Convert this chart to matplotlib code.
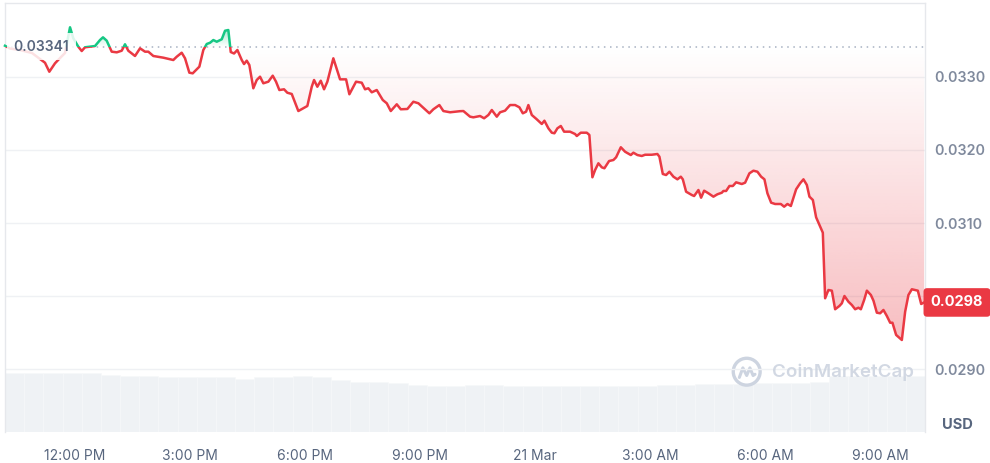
import numpy as np
import matplotlib
matplotlib.use("Agg")
import matplotlib.pyplot as plt
from matplotlib.patches import Rectangle, Circle
from matplotlib.path import Path

plt.rcParams['font.family'] = ['Inter', 'DejaVu Sans']

# ---- data (hours relative to 20 Mar 12:00 PM) ----
hours = [-1.826, -1.696, -1.435, -1.122, -0.783, -0.670, -0.522, -0.391, -0.261, -0.130,
         -0.044, 0.086, 0.175, 0.261, 0.522, 0.652, 0.730, 0.827, 0.957, 1.088,
         1.218, 1.304, 1.390, 1.565, 1.696, 1.826, 1.912, 2.043, 2.303, 2.564,
         2.653, 2.783, 2.870, 2.982, 3.070, 3.243, 3.347, 3.436, 3.522, 3.608,
         3.697, 3.827, 3.913, 3.999, 4.062, 4.148, 4.235, 4.349, 4.409, 4.479,
         4.547, 4.651, 4.740, 4.826, 4.912, 5.043, 5.157, 5.243, 5.330, 5.452,
         5.538, 5.653, 5.713, 5.825, 6.060, 6.175, 6.235, 6.321, 6.410, 6.496,
         6.582, 6.738, 6.913, 7.070, 7.156, 7.330, 7.479, 7.565, 7.651, 7.740,
         7.870, 8.027, 8.131, 8.236, 8.392, 8.497, 8.669, 8.825, 8.956, 9.243,
         9.347, 9.503, 9.608, 9.783, 10.043, 10.130, 10.304, 10.390, 10.565, 10.670,
         10.782, 10.871, 11.001, 11.087, 11.217, 11.348, 11.478, 11.591, 11.680, 11.765,
         11.825, 11.914, 12.044, 12.175, 12.243, 12.347, 12.436, 12.504, 12.582, 12.671,
         12.757, 12.913, 13.043, 13.088, 13.192, 13.349, 13.416, 13.495, 13.565, 13.651,
         13.740, 13.808, 13.930, 14.043, 14.113, 14.236, 14.348, 14.497, 14.564, 14.669,
         14.783, 14.870, 15.044, 15.190, 15.243, 15.331, 15.417, 15.503, 15.608, 15.712,
         15.801, 15.853, 15.939, 16.088, 16.148, 16.260, 16.330, 16.409, 16.521, 16.651,
         16.756, 16.870, 16.912, 16.983, 17.069, 17.158, 17.243, 17.392, 17.478, 17.590,
         17.695, 17.799, 17.896, 17.982, 18.060, 18.157, 18.261, 18.410, 18.496, 18.582,
         18.671, 18.809, 18.913, 19.000, 19.088, 19.156, 19.245, 19.330, 19.435, 19.505,
         19.565, 19.651, 19.740, 19.826, 19.938, 20.001, 20.069, 20.173, 20.262, 20.348,
         20.434, 20.497, 20.583, 20.654, 20.758, 20.826, 20.914, 21.000, 21.086, 21.175,
         21.261, 21.321, 21.417, 21.566, 21.652, 21.738, 21.827, 21.983, 22.070, 22.148]

prices = [0.033423, 0.033385, 0.033365, 0.033324, 0.033191, 0.033068, 0.033183, 0.033255, 0.033324, 0.033675,
          0.033525, 0.033410, 0.033351, 0.033402, 0.033419, 0.033501, 0.033538, 0.033492, 0.033342, 0.033333,
          0.033355, 0.033443, 0.033355, 0.033283, 0.033388, 0.033342, 0.033342, 0.033283, 0.033260, 0.033228,
          0.033273, 0.033328, 0.033251, 0.033055, 0.033046, 0.033137, 0.033365, 0.033447, 0.033464, 0.033501,
          0.033478, 0.033511, 0.033628, 0.033638, 0.033337, 0.033317, 0.033365, 0.033228, 0.033173, 0.033219,
          0.033160, 0.032842, 0.032955, 0.033000, 0.032910, 0.032932, 0.033014, 0.032932, 0.032818, 0.032828,
          0.032781, 0.032764, 0.032682, 0.032531, 0.032600, 0.032863, 0.032955, 0.032863, 0.032945, 0.032828,
          0.032932, 0.033251, 0.032964, 0.032964, 0.032760, 0.032932, 0.032918, 0.032828, 0.032842, 0.032787,
          0.032818, 0.032682, 0.032637, 0.032531, 0.032623, 0.032555, 0.032559, 0.032658, 0.032637, 0.032500,
          0.032555, 0.032613, 0.032531, 0.032514, 0.032529, 0.032531, 0.032454, 0.032445, 0.032463, 0.032432,
          0.032477, 0.032545, 0.032454, 0.032514, 0.032536, 0.032613, 0.032613, 0.032582, 0.032500, 0.032522,
          0.032613, 0.032477, 0.032418, 0.032354, 0.032399, 0.032295, 0.032235, 0.032227, 0.032295, 0.032327,
          0.032249, 0.032249, 0.032217, 0.032190, 0.032235, 0.032235, 0.032204, 0.031626, 0.031725, 0.031817,
          0.031762, 0.031749, 0.031848, 0.031862, 0.031899, 0.032036, 0.031975, 0.031930, 0.031962, 0.031930,
          0.031917, 0.031934, 0.031934, 0.031944, 0.031907, 0.031671, 0.031657, 0.031702, 0.031634, 0.031598,
          0.031634, 0.031598, 0.031429, 0.031384, 0.031370, 0.031452, 0.031347, 0.031443, 0.031407, 0.031361,
          0.031394, 0.031415, 0.031439, 0.031439, 0.031507, 0.031507, 0.031557, 0.031534, 0.031552, 0.031680,
          0.031716, 0.031702, 0.031634, 0.031598, 0.031407, 0.031279, 0.031261, 0.031261, 0.031224, 0.031261,
          0.031234, 0.031462, 0.031544, 0.031598, 0.031521, 0.031361, 0.031316, 0.031079, 0.030951, 0.030869,
          0.029973, 0.030086, 0.030077, 0.029823, 0.029868, 0.029904, 0.030004, 0.029926, 0.029881, 0.029823,
          0.029844, 0.029823, 0.029950, 0.030077, 0.030018, 0.029940, 0.029776, 0.029768, 0.029813, 0.029731,
          0.029639, 0.029639, 0.029472, 0.029403, 0.029789, 0.030018, 0.030096, 0.030077, 0.029895, 0.029916]

baseline = 0.03341
baseline_label = "0.03341"
last_label = "0.0298"

# volume (relative units), 30-minute bins starting at the first timestamp
volume = [5.87, 5.87, 5.87, 5.87, 5.95, 5.70, 5.60, 5.60, 5.47, 5.47, 5.47, 5.47,
          5.33, 5.47, 5.50, 5.60, 5.50, 5.20, 4.97, 4.97, 4.87, 4.73, 4.60, 4.60,
          4.67, 4.67, 4.60, 4.60, 4.60, 4.60, 4.60, 4.60, 4.60, 4.60, 4.73, 4.73,
          4.77, 4.77, 4.77, 4.87, 4.90, 4.93, 5.00, 5.57, 5.57, 5.57, 5.57, 5.65]
vol_bin_hours = 0.5

xtick_pos = [0, 3, 6, 9, 12, 15, 18, 21]
xtick_labels = ["12:00 PM", "3:00 PM", "6:00 PM", "9:00 PM", "21 Mar", "3:00 AM", "6:00 AM", "9:00 AM"]
# 0.0300 label is hidden behind the last-price badge in the reference
ytick_pos = [0.0290, 0.0300, 0.0310, 0.0320, 0.0330]
ytick_labels = ["0.0290", "", "0.0310", "0.0320", "0.0330"]

RED = "#ea3943"
GREEN = "#16c784"

t = np.array(hours)
p = np.array(prices)

W, H = 990, 463
fig = plt.figure(figsize=(W / 100, H / 100), dpi=100)
L, R, T, B = 5, 925, 3, 432
ax = fig.add_axes([L / W, 1 - B / H, (R - L) / W, (B - T) / H])
ax2 = ax.twinx()
ax.set_zorder(ax2.get_zorder() + 1)
ax.patch.set_visible(False)

x0, x1 = -1.826, 22.17
y0, y1 = 0.028146, 0.034007
ax.set_xlim(x0, x1)
ax.set_ylim(y0, y1)

# volume bars
vt = x0 + np.arange(len(volume)) * vol_bin_hours
ax2.bar(vt, volume, width=vol_bin_hours, align='edge', color="#eff2f5",
        edgecolor="#f7f8fa", linewidth=0.4)
ax2.set_ylim(0, 42.9)
ax2.set_yticks([])
for s in ax2.spines.values():
    s.set_visible(False)

# grid
for yv in ytick_pos:
    ax.axhline(yv, color="#eff1f4", lw=1, zorder=0)

# gradient fills
def grad_fill(mask_where, color, a_lo, a_hi, v_lo, v_hi):
    coll = ax.fill_between(t, p, baseline, where=mask_where, interpolate=True,
                           facecolor='none', edgecolor='none')
    paths = coll.get_paths()
    if not paths:
        return
    cp = Path.make_compound_path(*paths)
    n = 256
    rgb = matplotlib.colors.to_rgb(color)
    img = np.zeros((n, 2, 4))
    img[..., 0], img[..., 1], img[..., 2] = rgb
    img[..., 3] = np.linspace(a_lo, a_hi, n)[:, None]
    im = ax.imshow(img, extent=[x0, x1, v_lo, v_hi], origin='lower',
                   aspect='auto', interpolation='bilinear', zorder=1)
    im.set_clip_path(cp, transform=ax.transData)

grad_fill(p < baseline, RED, 0.33, 0.0, 0.02940, baseline)
grad_fill(p >= baseline, GREEN, 0.0, 0.40, baseline, 0.03366)
ax.set_xlim(x0, x1)
ax.set_ylim(y0, y1)

# baseline dotted
ax.axhline(baseline, color="#a7b1c2", lw=1.1, ls=(0, (1, 3)), zorder=2)

# price line split by color
red_line, = ax.plot(t, p, color=RED, lw=1.8, solid_joinstyle='round', zorder=3)
green_line, = ax.plot(t, p, color=GREEN, lw=1.8, solid_joinstyle='round', zorder=3)
clip_lo = Rectangle((x0 - 1, y0 - 0.001), x1 - x0 + 2, baseline - y0 + 0.001, transform=ax.transData)
clip_hi = Rectangle((x0 - 1, baseline), x1 - x0 + 2, 0.002, transform=ax.transData)
red_line.set_clip_path(clip_lo)
green_line.set_clip_path(clip_hi)

# baseline label
ax.text(0.0095, baseline, baseline_label, transform=ax.get_yaxis_transform(),
        ha='left', va='center', fontsize=10, fontweight='semibold', color="#58667e",
        zorder=5, bbox=dict(boxstyle='square,pad=0.45', facecolor='white',
                            edgecolor='none', alpha=0.85))

# axes styling
for side in ['left', 'top', 'right']:
    ax.spines[side].set_color("#e6e8ec")
    ax.spines[side].set_linewidth(1)
ax.spines['bottom'].set_visible(False)
ax.set_xticks(xtick_pos)
ax.set_xticklabels(xtick_labels)
ax.tick_params(axis='x', length=0, pad=12, labelsize=10, labelcolor="#58667e")
ax.yaxis.tick_right()
ax.set_yticks(ytick_pos)
ax.set_yticklabels(ytick_labels)
ax.tick_params(axis='y', length=0, pad=7, labelsize=10.3, labelcolor="#808a9d")
for lab in ax.get_yticklabels():
    lab.set_fontweight('semibold')

# last price badge
ax.annotate(last_label, xy=(1, p[-1]), xycoords=ax.get_yaxis_transform(),
            xytext=(32, 0), textcoords='offset pixels', ha='center', va='center',
            fontsize=10.5, fontweight='bold', color='white', zorder=10,
            annotation_clip=False,
            bbox=dict(boxstyle='round,pad=0.5,rounding_size=0.25', facecolor=RED, edgecolor='none'))

# USD label
fig.text(957 / W, 1 - 425 / H, "USD", ha='center', va='center', fontsize=10.5,
         fontweight='bold', color="#58667e")

# watermark
wm = "#cdd4e0"
fig.text(772 / W, 1 - 372 / H, "CoinMarketCap", ha='left', va='center', fontsize=13.5,
         fontweight='semibold', color=wm, alpha=0.9, zorder=1)
lax = fig.add_axes([(746.7 - 16) / W, 1 - (371.7 + 16) / H, 32 / W, 32 / H])
lax.set_xlim(0, 1); lax.set_ylim(0, 1); lax.axis('off')
lax.add_patch(Circle((0.5, 0.5), 0.42, fill=False, lw=2.4, ec=wm))
lax.plot([0.27, 0.38, 0.5, 0.6, 0.7, 0.76], [0.32, 0.62, 0.38, 0.62, 0.38, 0.42],
         color=wm, lw=2.2, solid_joinstyle='round', solid_capstyle='round')

fig.savefig("out.png", dpi=100, facecolor='white')
